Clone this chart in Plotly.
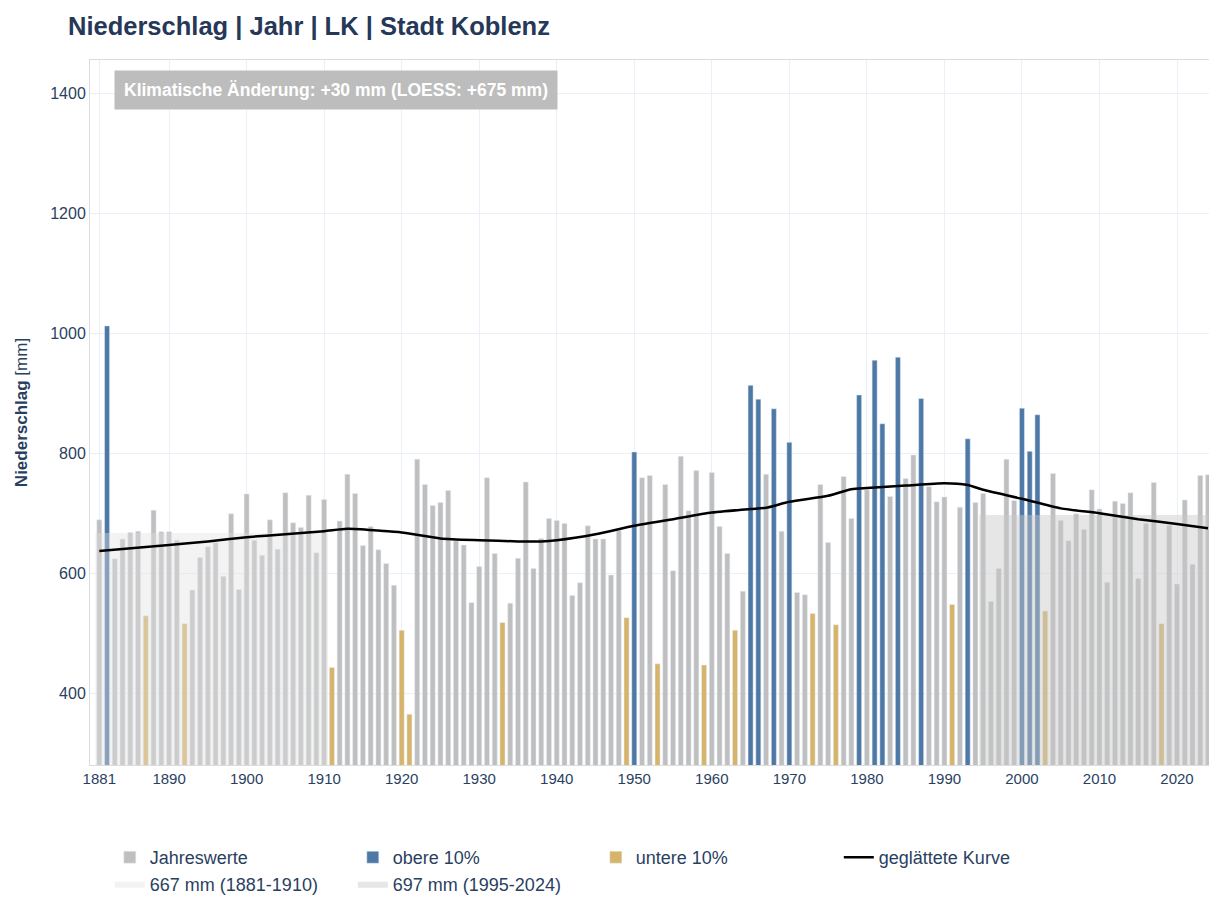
import plotly.graph_objects as go

# Jahresniederschlag Stadt Koblenz, 1881-2024 (mm)
years = list(range(1881, 2025))
precip = (
    [689, 1012, 624, 657, 668, 670, 529, 705, 669, 669]      # 1881-1890
    + [655, 516, 572, 626, 644, 651, 595, 699, 573, 732]     # 1891-1900
    + [655, 630, 689, 640, 734, 684, 676, 730, 634, 723]     # 1901-1910
    + [443, 687, 765, 733, 646, 678, 639, 616, 580, 505]     # 1911-1920
    + [365, 790, 748, 713, 718, 738, 654, 647, 551, 611]     # 1921-1930
    + [759, 633, 518, 550, 625, 752, 608, 658, 691, 688]     # 1931-1940
    + [683, 563, 584, 679, 657, 657, 597, 671, 526, 802]     # 1941-1950
    + [759, 763, 449, 748, 604, 795, 704, 771, 447, 768]     # 1951-1960
    + [678, 633, 505, 570, 913, 890, 765, 874, 670, 818]     # 1961-1970
    + [568, 564, 533, 748, 651, 514, 761, 691, 897, 739]     # 1971-1980
    + [955, 849, 728, 960, 758, 797, 891, 744, 719, 727]     # 1981-1990
    + [548, 710, 824, 718, 733, 553, 608, 790, 721, 875]     # 1991-2000
    + [803, 864, 537, 766, 688, 654, 699, 673, 739, 707]     # 2001-2010
    + [585, 720, 716, 734, 591, 683, 751, 516, 680, 582]     # 2011-2020
    + [722, 615, 763, 764]                                   # 2021-2024
)

obere_years = [1882, 1950, 1965, 1966, 1968, 1970, 1979, 1981, 1982, 1984,
               1987, 1993, 2000, 2001, 2002]
untere_years = [1887, 1892, 1911, 1920, 1921, 1933, 1949, 1953, 1959, 1963,
                1973, 1976, 1991, 2003, 2018]

# geglaettete Kurve (LOESS)
loess_years = [1881, 1890, 1895, 1900, 1905, 1910, 1913, 1917, 1920, 1925,
               1930, 1935, 1938, 1940, 1945, 1950, 1955, 1960, 1965, 1967,
               1970, 1975, 1978, 1980, 1985, 1990, 1993, 1995, 2000, 2005,
               2010, 2015, 2020, 2024]
loess_vals = [637, 647, 653, 660, 665, 670, 674, 671, 668, 658,
              655, 653, 653, 655, 665, 679, 690, 701, 707, 709,
              719, 729, 740, 742, 746, 750, 747, 739, 724, 708,
              700, 690, 682, 675]

mean_early = 667   # 1881-1910
mean_late = 697    # 1995-2024

tick_years = [1881, 1890, 1900, 1910, 1920, 1930, 1940, 1950, 1960, 1970,
              1980, 1990, 2000, 2010, 2020]

navy = "#2a3f5f"
gray = "#bfbfbf"
blue = "#4e79a7"
gold = "#d6b46a"

normal_x, normal_y, ob_x, ob_y, un_x, un_y = [], [], [], [], [], []
for yr, v in zip(years, precip):
    if yr in obere_years:
        ob_x.append(yr); ob_y.append(v)
    elif yr in untere_years:
        un_x.append(yr); un_y.append(v)
    else:
        normal_x.append(yr); normal_y.append(v)

fig = go.Figure()
fig.add_trace(go.Bar(x=normal_x, y=normal_y, name="Jahreswerte",
                     marker_color=gray, legendrank=1))
fig.add_trace(go.Bar(x=ob_x, y=ob_y, name="obere 10%",
                     marker_color=blue, legendrank=2))
fig.add_trace(go.Bar(x=un_x, y=un_y, name="untere 10%",
                     marker_color=gold, legendrank=3))

# Referenzperioden als halbtransparente Flaechen
fig.add_trace(go.Scatter(x=[1880.5, 1910.5, 1910.5, 1880.5, 1880.5],
                         y=[0, 0, mean_early, mean_early, 0],
                         fill="toself", mode="lines", line_width=0,
                         fillcolor="rgba(225,225,225,0.4)",
                         name=f"{mean_early} mm (1881-1910)", legendrank=5))
fig.add_trace(go.Scatter(x=[1994.5, 2024.5, 2024.5, 1994.5, 1994.5],
                         y=[0, 0, mean_late, mean_late, 0],
                         fill="toself", mode="lines", line_width=0,
                         fillcolor="rgba(200,200,200,0.45)",
                         name=f"{mean_late} mm (1995-2024)", legendrank=6))

fig.add_trace(go.Scatter(x=loess_years, y=loess_vals, mode="lines",
                         line=dict(color="black", width=2.5, shape="spline",
                                   smoothing=0.6),
                         name="geglättete Kurve", legendrank=4))

fig.add_annotation(
    text="<b>Klimatische Änderung: +30 mm (LOESS: +675 mm)</b>",
    xref="paper", yref="paper", x=0.0213, y=0.986,
    xanchor="left", yanchor="top", showarrow=False,
    bgcolor="#bdbdbd", borderpad=9,
    font=dict(color="white", size=17.5, family="Liberation Sans, Arial"),
)

# the page body adds 8px, so the margins are shifted by that amount
fig.update_layout(
    width=1217, height=901,
    barmode="overlay", bargap=0.35,
    plot_bgcolor="white", paper_bgcolor="white",
    font=dict(family="Liberation Sans, Arial", size=16, color=navy),
    title=dict(text="<b>Niederschlag | Jahr | LK | Stadt Koblenz</b>",
               x=60 / 1217, xanchor="left", y=0.980, yanchor="middle",
               font=dict(size=25.5, color="#253858")),
    margin=dict(l=82, r=10, t=52, b=144, autoexpand=False),
    legend=dict(orientation="h", x=0.0176, xanchor="left", y=-0.105,
                yanchor="top", entrywidth=198, traceorder="normal",
                font=dict(size=18, color=navy)),
    showlegend=True,
)
fig.update_xaxes(range=[1879.8, 2024.9], tickvals=tick_years,
                 showgrid=True, gridcolor="#ebf0f8", zeroline=False,
                 showline=True, mirror=True, linecolor="#dcdcdc",
                 tickfont=dict(size=15))
fig.update_yaxes(range=[280.5, 1455], tickvals=[400, 600, 800, 1000, 1200, 1400],
                 showgrid=True, gridcolor="#ebf0f8", zeroline=False,
                 showline=True, mirror=True, linecolor="#dcdcdc",
                 title=dict(text="<b>Niederschlag</b> [mm]", standoff=18,
                            font=dict(size=17)),
                 tickfont=dict(size=16))

fig.write_html("out.html")
